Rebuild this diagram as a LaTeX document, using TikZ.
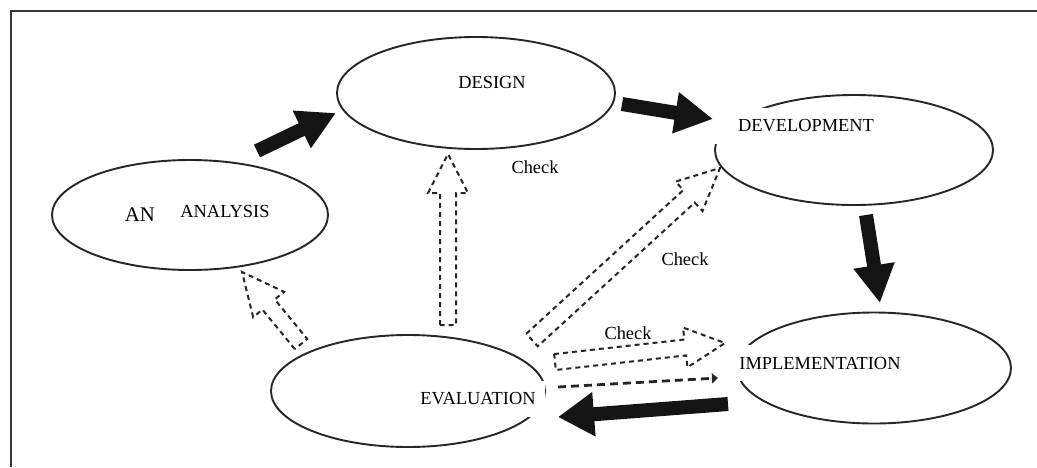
\documentclass[tikz,border=0pt]{standalone}
\usepackage{fontspec}
\setmainfont{Liberation Serif}
\usetikzlibrary{shapes.geometric,arrows.meta,calc}
\tikzset{
  stage/.style={ellipse, draw=black!85, line width=1.9pt, inner sep=0pt},
  lbl/.style={font=\fontsize{18.4}{20}\selectfont, inner sep=0pt},
  cover/.style={lbl, fill=white, minimum height=36pt, inner xsep=9pt},
  chk/.style={font=\fontsize{18.4}{20}\selectfont, inner sep=0pt},
  frame/.style={draw=black!78, line width=2.8pt},
  bigarrow/.style={draw=black!92, line width=14pt, -{Triangle[width=39pt,length=38pt]}},
  hollow/.style={draw=black!85, line width=2pt, dash pattern=on 5pt off 4pt, line join=miter},
  dline/.style={draw=black!85, line width=2.8pt, dash pattern=on 8pt off 5pt, -{Triangle[length=6pt,width=10pt]}}
}
\newcommand\hollowarr[5]{%
  \coordinate (hb) at ($(#2)!#3!(#1)$);
  \draw[hollow] ($(#1)!#4!90:(#2)$) -- ($(hb)!#4!90:(#2)$) -- ($(hb)!#5!90:(#2)$)
     -- (#2) -- ($(hb)!#5!-90:(#2)$) -- ($(hb)!#4!-90:(#2)$) -- ($(#1)!#4!-90:(#2)$) -- cycle;
}
\begin{document}
\begin{tikzpicture}[x=1pt,y=-1pt]
\useasboundingbox (0,0) rectangle (1037,467);
\fill[white] (0,0) rectangle (1037,467);
\draw[frame] (11,467) -- (11,11) -- (1037,11);

% stages
\node[stage, minimum width=278pt, minimum height=112pt] (design) at (476,93) {};
\node[stage, minimum width=278pt, minimum height=110pt] (devel) at (854,150) {};
\node[stage, minimum width=276pt, minimum height=110pt] (analysis) at (190,215) {};
\node[stage, minimum width=274pt, minimum height=112pt] (eval) at (408,391) {};
\node[stage, minimum width=274pt, minimum height=111pt] (impl) at (874,368) {};

% labels
\node[lbl] (designT) at (492,82) {DESIGN};
\node[cover, inner xsep=23pt] (develT) at (806,126) {DEVELOPMENT};
\node[lbl, font=\fontsize{20.8}{22}\selectfont] (anT) at (140,215) {AN};
\node[lbl] (analysisT) at (225,211) {ANALYSIS};
\node[cover] (evalT) at (478,399) {EVALUATION};
\node[cover] (implT) at (820,363) {IMPLEMENTATION};

\node[chk] (chk1) at (535,167) {Check};
\node[chk] (chk2) at (685,259) {Check};
\node[chk] (chk3) at (628,333) {Check};

% arrow end points
\coordinate (t1s) at (257,151); \coordinate (t1e) at (336,113);
\coordinate (t2s) at (622,104); \coordinate (t2e) at (713,119);
\coordinate (t3s) at (866,215); \coordinate (t3e) at (880,303);
\coordinate (t4s) at (728,404); \coordinate (t4e) at (558,417);

\coordinate (h1s) at (301,344); \coordinate (h1e) at (242,272);
\coordinate (h2s) at (448,325); \coordinate (h2e) at (448,154);
\coordinate (h3s) at (532,340); \coordinate (h3e) at (720,168);
\coordinate (h4s) at (555,362); \coordinate (h4e) at (725,343);

\coordinate (d5s) at (558,387); \coordinate (d5e) at (718,378);

% solid process arrows
\draw[bigarrow] (t1s) -- (t1e);
\draw[bigarrow] (t2s) -- (t2e);
\draw[bigarrow] (t3s) -- (t3e);
\draw[bigarrow, -{Triangle[width=42pt,length=36pt]}] (t4s) -- (t4e);

% hollow dashed check arrows
\hollowarr{h1s}{h1e}{42pt}{8pt}{20pt}
\hollowarr{h2s}{h2e}{39pt}{8pt}{20pt}
\hollowarr{h3s}{h3e}{42pt}{8.5pt}{20pt}
\hollowarr{h4s}{h4e}{40pt}{8pt}{20pt}

\draw[dline] (d5s) -- (d5e);
\end{tikzpicture}
\end{document}
